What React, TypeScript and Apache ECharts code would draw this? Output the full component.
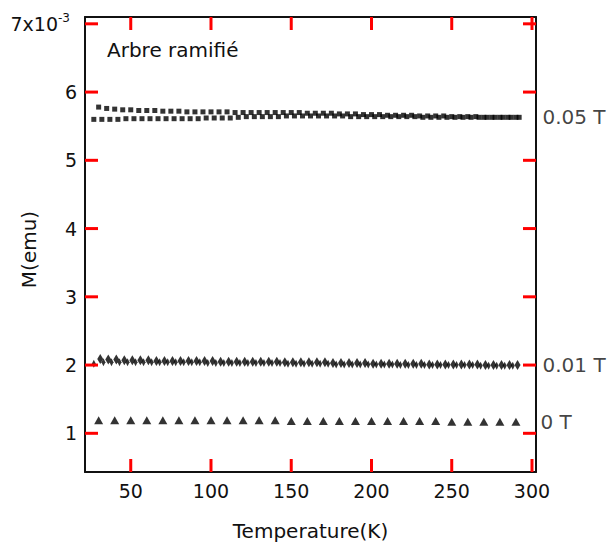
import React, { useEffect, useRef } from "react";
import * as echarts from "echarts";

// 0.05 T, upper branch
const T_005_UP = [30, 35, 40, 45, 50, 55, 60, 65, 70, 75, 80, 85, 90, 95, 100, 105, 110, 115, 120, 125, 130, 135, 140, 145, 150, 155, 160, 165, 170, 175, 180, 185, 190, 195, 200, 205, 210, 215, 220, 225, 230, 235, 240, 245, 250, 255, 260, 265, 270, 275, 280, 285, 290];
const M_005_UP = [5.78, 5.76, 5.75, 5.74, 5.74, 5.73, 5.73, 5.73, 5.72, 5.72, 5.72, 5.71, 5.71, 5.71, 5.71, 5.71, 5.71, 5.70, 5.70, 5.70, 5.70, 5.70, 5.70, 5.70, 5.70, 5.70, 5.69, 5.69, 5.69, 5.69, 5.68, 5.68, 5.68, 5.67, 5.67, 5.67, 5.66, 5.66, 5.66, 5.66, 5.65, 5.65, 5.65, 5.65, 5.64, 5.64, 5.64, 5.64, 5.63, 5.63, 5.63, 5.63, 5.63];
// 0.05 T, lower branch
const T_005_LO = [27, 32, 37, 42, 47, 52, 57, 62, 67, 72, 77, 82, 87, 92, 97, 102, 107, 112, 117, 122, 127, 132, 137, 142, 147, 152, 157, 162, 167, 172, 177, 182, 187, 192, 197, 202, 207, 212, 217, 222, 227, 232, 237, 242, 247, 252, 257, 262, 267, 272, 277, 282, 287, 292];
const M_005_LO = [5.60, 5.60, 5.60, 5.60, 5.61, 5.61, 5.61, 5.61, 5.61, 5.61, 5.61, 5.61, 5.61, 5.61, 5.62, 5.62, 5.62, 5.62, 5.63, 5.64, 5.64, 5.64, 5.64, 5.64, 5.65, 5.65, 5.65, 5.65, 5.65, 5.65, 5.65, 5.65, 5.64, 5.64, 5.64, 5.64, 5.64, 5.64, 5.64, 5.64, 5.64, 5.63, 5.63, 5.63, 5.63, 5.63, 5.63, 5.63, 5.63, 5.63, 5.63, 5.63, 5.63, 5.63];

// 0.01 T, upper branch
const T_001_UP = [31, 36, 41, 46, 51, 56, 61, 66, 71, 76, 81, 86, 91, 96, 101, 106, 111, 116, 121, 126, 131, 136, 141, 146, 151, 156, 161, 166, 171, 176, 181, 186, 191, 196, 201, 206, 211, 216, 221, 226, 231, 236, 241, 246, 251, 256, 261, 266, 271, 276, 281, 286, 291];
const M_001_UP = [2.09, 2.08, 2.08, 2.07, 2.07, 2.07, 2.07, 2.06, 2.06, 2.06, 2.06, 2.06, 2.06, 2.06, 2.06, 2.05, 2.05, 2.05, 2.05, 2.05, 2.05, 2.05, 2.05, 2.04, 2.04, 2.04, 2.04, 2.04, 2.04, 2.03, 2.03, 2.03, 2.03, 2.03, 2.02, 2.02, 2.02, 2.02, 2.02, 2.02, 2.02, 2.01, 2.01, 2.01, 2.01, 2.01, 2.01, 2.01, 2.00, 2.00, 2.00, 2.00, 2.00];
// 0.01 T, lower branch
const T_001_LO = [27, 33, 38, 43, 48, 53, 58, 63, 68, 73, 78, 83, 88, 93, 98, 103, 108, 113, 118, 123, 128, 133, 138, 143, 148, 153, 158, 163, 168, 173, 178, 183, 188, 193, 198, 203, 208, 213, 218, 223, 228, 233, 238, 243, 248, 253, 258, 263, 268, 273, 278, 283, 288];
const M_001_LO = [2.02, 2.04, 2.04, 2.04, 2.04, 2.04, 2.04, 2.04, 2.04, 2.04, 2.04, 2.04, 2.04, 2.04, 2.03, 2.03, 2.03, 2.03, 2.03, 2.03, 2.03, 2.03, 2.03, 2.03, 2.02, 2.02, 2.02, 2.02, 2.02, 2.02, 2.01, 2.01, 2.01, 2.01, 2.01, 2.01, 2.01, 2.01, 2.00, 2.00, 2.00, 2.00, 2.00, 2.00, 2.00, 2.00, 2.00, 2.00, 1.99, 1.99, 1.99, 1.99, 1.99];

// 0 T
const T_0 = [30, 40, 50, 60, 70, 80, 90, 100, 110, 120, 130, 140, 150, 160, 170, 180, 190, 200, 210, 220, 230, 240, 250, 260, 270, 280, 290];
const M_0 = [1.19, 1.19, 1.19, 1.19, 1.19, 1.19, 1.19, 1.19, 1.19, 1.19, 1.19, 1.19, 1.18, 1.18, 1.18, 1.18, 1.18, 1.18, 1.18, 1.18, 1.18, 1.18, 1.17, 1.17, 1.17, 1.17, 1.17];

const X_TICKS = [50, 100, 150, 200, 250, 300];
const Y_TICKS = [1, 2, 3, 4, 5, 6, 7];
const SERIES_LABELS = ["0.05 T", "0.01 T", "0 T"];
const TITLE = "Arbre ramifié";

const X_MIN = 21.5;
const X_MAX = 302.5;
const Y_MIN = 0.433;
const Y_MAX = 7.1;

const FONT = "DejaVu Sans";
const INK = "#111111";
const MARK = "#000000";
const TICK_COLOR = "#ff0000";
const TICK_LEN = 13;
const TICK_W = 3;

function pairs(ts: number[], ms: number[]) {
  return ts.map((t, i) => [t, ms[i]]);
}

function withEndLabel(data: number[][], text: string, distance: number) {
  return data.map((p, i) =>
    i === data.length - 1
      ? {
          value: p,
          label: {
            show: true,
            position: "right",
            distance,
            formatter: text,
            fontFamily: FONT,
            fontSize: 20,
            color: INK,
          },
        }
      : p
  );
}

function line() {
  return { show: true, onZero: false, lineStyle: { color: INK, width: 2 } };
}

// inward tick marks drawn as thin rectangle symbols at the tick values
function tickSeries(data: number[][], size: number[], offset: number[]) {
  return {
    type: "scatter",
    silent: true,
    clip: false,
    z: 10,
    symbol: "rect",
    symbolSize: size,
    symbolOffset: offset,
    itemStyle: { color: TICK_COLOR, opacity: 1 },
    data,
  };
}

export default function App() {
  const ref = useRef<HTMLDivElement>(null);
  useEffect(() => {
    document.body.style.margin = "0";
    const chart = echarts.init(ref.current!, null, { renderer: "svg" });
    const xRange = { type: "value", min: X_MIN, max: X_MAX, splitNumber: 5, splitLine: { show: false }, axisTick: { show: false } };
    const yRange = { type: "value", min: Y_MIN, max: Y_MAX, splitNumber: 6, splitLine: { show: false }, axisTick: { show: false } };
    const option: any = {
      animation: false,
      backgroundColor: "#ffffff",
      grid: { left: 85, right: 76, top: 17, bottom: 74, containLabel: false, outerBoundsMode: "none" },
      xAxis: [
        {
          ...xRange,
          position: "bottom",
          axisLine: line(),
          axisLabel: {
            margin: 9,
            fontFamily: FONT,
            fontSize: 19,
            color: INK,
            formatter: (v: number) => (X_TICKS.includes(v) ? String(v) : ""),
          },
          name: "Temperature(K)",
          nameLocation: "middle",
          nameGap: 49,
          nameMoveOverlap: false,
          nameTextStyle: { fontFamily: FONT, fontSize: 20, color: INK },
        },
        { ...xRange, position: "top", axisLine: line(), axisLabel: { show: false } },
      ],
      yAxis: [
        {
          ...yRange,
          position: "left",
          axisLine: line(),
          axisLabel: {
            margin: 8,
            fontFamily: FONT,
            fontSize: 19,
            color: INK,
            formatter: (v: number) => {
              if (v === 7) return "{a|7x10}{b|-3}";
              return Y_TICKS.includes(v) ? String(v) : "";
            },
            rich: {
              a: { fontFamily: FONT, fontSize: 19, color: INK, lineHeight: 24 },
              b: { fontFamily: FONT, fontSize: 12, color: INK, verticalAlign: "top", padding: [0, 7, 0, 0] },
            },
          },
          name: "M(emu)",
          nameLocation: "middle",
          nameGap: 46,
          nameMoveOverlap: false,
          nameTextStyle: { fontFamily: FONT, fontSize: 20, color: INK, padding: [0, 10, 0, 0] },
        },
        { ...yRange, position: "right", axisLine: line(), axisLabel: { show: false } },
      ],
      graphic: [
        {
          type: "text",
          left: 107,
          top: 40,
          style: { text: TITLE, font: `20px "${FONT}"`, fill: INK },
        },
      ],
      series: [
        {
          type: "scatter",
          symbol: "rect",
          symbolSize: 5,
          itemStyle: { color: MARK },
          data: withEndLabel(pairs(T_005_UP, M_005_UP), SERIES_LABELS[0], 24),
          silent: true,
        },
        {
          type: "scatter",
          symbol: "rect",
          symbolSize: 5,
          itemStyle: { color: MARK },
          data: pairs(T_005_LO, M_005_LO),
          silent: true,
        },
        {
          type: "scatter",
          symbol: "diamond",
          symbolSize: [6, 10],
          itemStyle: { color: MARK },
          data: withEndLabel(pairs(T_001_UP, M_001_UP), SERIES_LABELS[1], 22),
          silent: true,
        },
        {
          type: "scatter",
          symbol: "diamond",
          symbolSize: [4, 8],
          itemStyle: { color: MARK },
          data: pairs(T_001_LO, M_001_LO),
          silent: true,
        },
        {
          type: "scatter",
          symbol: "triangle",
          symbolSize: [9, 8],
          itemStyle: { color: MARK },
          data: withEndLabel(pairs(T_0, M_0), SERIES_LABELS[2], 20),
          silent: true,
        },
        tickSeries(X_TICKS.map((v) => [v, Y_MIN]), [TICK_W, TICK_LEN], [0, -TICK_LEN / 2]),
        tickSeries(X_TICKS.map((v) => [v, Y_MAX]), [TICK_W, TICK_LEN], [0, TICK_LEN / 2]),
        tickSeries(Y_TICKS.map((v) => [X_MIN, v]), [TICK_LEN, TICK_W], [TICK_LEN / 2, 0]),
        tickSeries(Y_TICKS.map((v) => [X_MAX, v]), [TICK_LEN, TICK_W], [-TICK_LEN / 2, 0]),
      ],
    };
    chart.setOption(option);
    return () => chart.dispose();
  }, []);
  return <div ref={ref} style={{ width: 612, height: 546 }} />;
}
